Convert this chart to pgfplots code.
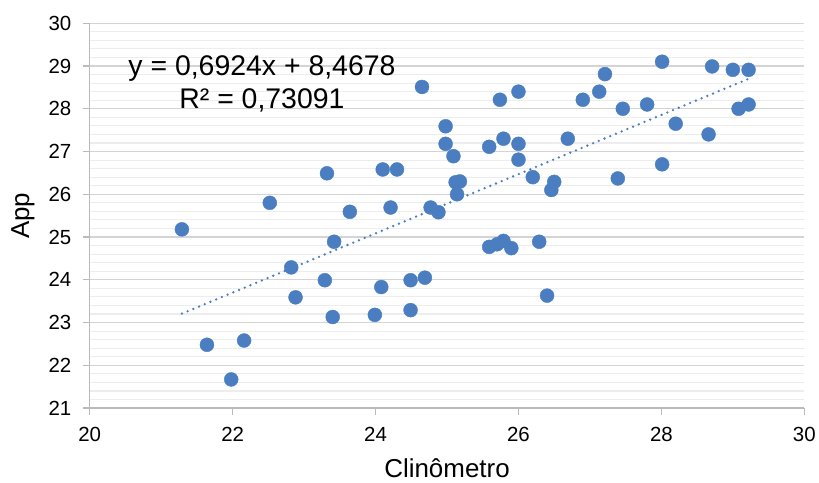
\documentclass[border=0pt]{standalone}
\usepackage{fontspec}
\setmainfont{Liberation Sans}
\usepackage{pgfplots}
\pgfplotsset{compat=1.18}
\definecolor{pt}{RGB}{74,126,193}
\begin{document}
\begin{tikzpicture}
\begin{axis}[
  scale only axis, width=716.7pt, height=386pt,
  xmin=20, xmax=30, ymin=21, ymax=30,
  xtick={20,22,...,30}, ytick={21,22,...,30},
  minor y tick num=4,
  ymajorgrids, yminorgrids,
  major grid style={draw=black!17, line width=1.3pt},
  minor grid style={draw=black!7, line width=1.1pt},
  axis lines*=left,
  axis line style={draw=black!27, line width=1.3pt, -},
  tick align=outside, major tick length=7pt, minor tick length=0pt,
  tick style={draw=black!27, line width=1.3pt},
  ticklabel style={font=\fontsize{20.5}{24}\selectfont},
  xticklabel style={yshift=-9pt},
  yticklabel style={xshift=-8pt},
  /pgf/number format/assume math mode=true,
  xlabel={Clinômetro}, ylabel={App},
  label style={font=\fontsize{26}{30}\selectfont},
  xlabel style={at={(axis description cs:0.5,0)}, anchor=base, yshift=-69.5pt},
  ylabel style={at={(axis description cs:0,0.5)}, anchor=center, yshift=67pt},
  clip=false,
]
\addplot[only marks, mark=*, mark size=7pt, mark options={draw=pt, fill=pt}] table {
x y
21.29 25.18
21.64 22.48
21.98 21.67
22.16 22.58
22.52 25.80
22.82 24.29
22.88 23.59
23.29 23.99
23.32 26.49
23.40 23.13
23.42 24.89
23.64 25.59
23.99 23.18
24.08 23.83
24.10 26.58
24.21 25.69
24.30 26.58
24.49 23.99
24.49 23.29
24.65 28.51
24.69 24.05
24.77 25.69
24.88 25.58
24.98 27.59
24.98 27.18
25.09 26.89
25.14 26.00
25.12 26.28
25.18 26.30
25.59 27.11
25.59 24.77
25.70 24.83
25.74 28.21
25.79 27.30
25.79 24.91
25.90 24.74
26.00 28.40
26.00 27.18
26.00 26.81
26.20 26.40
26.29 24.89
26.40 23.63
26.46 26.10
26.50 26.29
26.69 27.30
26.90 28.21
27.13 28.40
27.21 28.81
27.39 26.37
27.46 28.00
27.80 28.10
28.01 29.10
28.01 26.70
28.20 27.65
28.66 27.40
28.71 28.99
29.00 28.91
29.08 28.00
29.22 28.91
29.22 28.10
};
\addplot[draw=pt, line width=2.6pt, line cap=round, dash pattern=on 0pt off 6.2pt] coordinates {(21.29,23.209) (29.22,28.700)};
\node[font=\fontsize{28.5}{33}\selectfont, align=center] at (axis cs:22.41,28.58) {y = 0,6924x + 8,4678\\R² = 0,73091};
\path (rel axis cs:0,0) ++(-90pt,-74.7pt) coordinate (bl);
\path (rel axis cs:1,1) ++(12.3pt,23.3pt) coordinate (tr);
\end{axis}
\path (bl) rectangle (tr);
\end{tikzpicture}
\end{document}
